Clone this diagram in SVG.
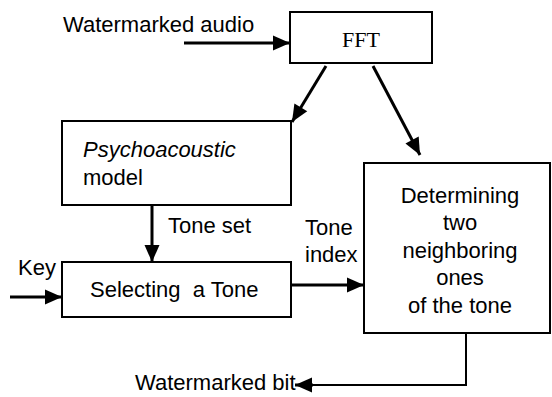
<svg xmlns="http://www.w3.org/2000/svg" width="552" height="397" viewBox="0 0 552 397">
  <style>
    .box { fill: #fff; stroke: #000; stroke-width: 2; }
    .wire { fill: none; stroke: #000; stroke-width: 3; }
    .thin { fill: none; stroke: #000; stroke-width: 2; }
    .lbl { font-family: "Liberation Sans", Arial, sans-serif; font-size: 22px; fill: #000; }
    .mid { text-anchor: middle; }
    .serif { font-family: "Liberation Serif", "Times New Roman", serif; font-size: 22px; fill: #000; }
  </style>
  <defs>
    <marker id="head" markerUnits="userSpaceOnUse" markerWidth="18" markerHeight="16" refX="17" refY="7.5" orient="auto" overflow="visible">
      <path d="M0,0 L17,7.5 L0,15 z" fill="#000"/>
    </marker>
  </defs>

  <rect width="552" height="397" fill="#fff"/>

  <!-- blocks -->
  <g id="fft">
    <rect class="box" x="290" y="12" width="142" height="51"/>
    <text class="serif mid" x="361" y="47">FFT</text>
  </g>
  <g id="psychoacoustic">
    <rect class="box" x="62" y="121" width="229" height="84"/>
    <text class="lbl" x="83" y="157" font-style="italic">Psychoacoustic</text>
    <text class="lbl" x="83" y="185">model</text>
  </g>
  <g id="selecting">
    <rect class="box" x="62" y="262" width="229" height="55"/>
    <text class="lbl" x="90" y="297" style="white-space:pre">Selecting  a Tone</text>
  </g>
  <g id="determining">
    <rect class="box" x="364" y="163" width="186" height="170"/>
    <text class="lbl mid" x="460" y="203">Determining</text>
    <text class="lbl mid" x="460" y="230">two</text>
    <text class="lbl mid" x="460" y="258">neighboring</text>
    <text class="lbl mid" x="460" y="285">ones</text>
    <text class="lbl mid" x="460" y="313">of the tone</text>
  </g>

  <!-- signal labels -->
  <g id="labels">
    <text class="lbl" x="63" y="32">Watermarked audio</text>
    <text class="lbl" x="168" y="233">Tone set</text>
    <text class="lbl" x="18" y="275">Key</text>
    <text class="lbl" x="305" y="235">Tone</text>
    <text class="lbl" x="305" y="262">index</text>
    <text class="lbl" x="135" y="390">Watermarked bit</text>
  </g>

  <!-- connectors -->
  <g id="connectors">
    <path class="wire" d="M184,43 L290,43" marker-end="url(#head)"/>
    <path class="wire" d="M326,66 L292,122" marker-end="url(#head)"/>
    <path class="wire" d="M373,66 L420,155" marker-end="url(#head)"/>
    <path class="wire" d="M152,205 L152,262" marker-end="url(#head)"/>
    <path class="wire" d="M10,297 L62,297" marker-end="url(#head)"/>
    <path class="wire" d="M291,285 L364,285" marker-end="url(#head)"/>
    <path class="thin" d="M466,333 L466,385 L310,385"/>
    <path class="wire" d="M313,385 L295,385" marker-end="url(#head)"/>
  </g>
</svg>
